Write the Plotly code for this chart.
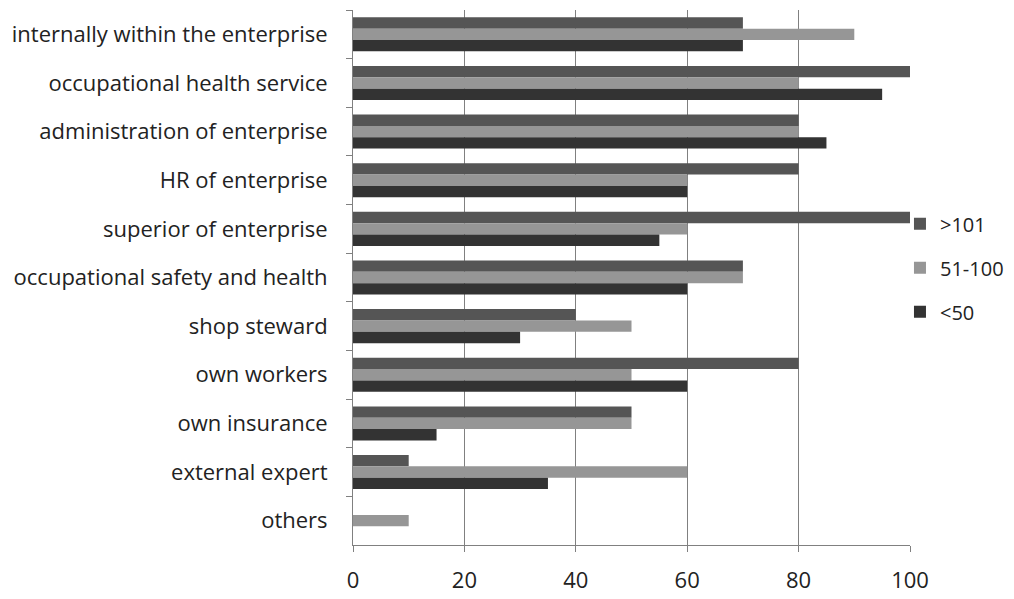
import plotly.graph_objects as go

categories = [
    "internally within the enterprise",
    "occupational health service",
    "administration of enterprise",
    "HR of enterprise",
    "superior of enterprise",
    "occupational safety and health",
    "shop steward",
    "own workers",
    "own insurance",
    "external expert",
    "others",
]
series_names = [">101", "51-100", "<50"]
vals_gt101 = [70, 100, 80, 80, 100, 70, 40, 80, 50, 10, 0]
vals_51_100 = [90, 80, 80, 60, 60, 70, 50, 50, 50, 60, 10]
vals_lt50 = [70, 95, 85, 60, 55, 60, 30, 60, 15, 35, 0]
colors = ["#555555", "#969696", "#333333"]
x_ticks = [0, 20, 40, 60, 80, 100]

fig = go.Figure()
for name, vals, col in zip(series_names, [vals_gt101, vals_51_100, vals_lt50], colors):
    fig.add_trace(go.Bar(
        y=categories, x=vals, name=name, orientation="h", legendgroup=name,
        marker=dict(color=col, line=dict(width=0)),
    ))

fnt = dict(family="Open Sans, Liberation Sans, sans-serif", size=22, color="#222222")
fig.update_layout(
    width=1014, height=599,
    margin=dict(l=353, r=104, t=10, b=54, autoexpand=False),
    paper_bgcolor="white", plot_bgcolor="white",
    barmode="group", bargap=0.3, bargroupgap=0,
    font=fnt,
    showlegend=True,
    legend=dict(x=0.982, y=0.518, xanchor="left", yanchor="middle",
                traceorder="grouped", font=dict(size=20),
                bgcolor="rgba(0,0,0,0)",
                itemwidth=30, tracegroupgap=15),
    xaxis=dict(range=[0, 100], tickvals=x_ticks, showgrid=True,
               gridcolor="#808080", gridwidth=1, automargin=False,
               showline=True, linecolor="#808080", linewidth=1,
               ticks="outside", ticklen=6, tickcolor="#808080",
               ticklabelstandoff=10, zeroline=False, fixedrange=True),
    yaxis=dict(autorange="reversed", showline=True, linecolor="#808080",
               linewidth=1, ticks="outside", ticklen=6, tickcolor="#808080",
               tickson="boundaries", ticklabelstandoff=20, showgrid=False,
               automargin=False, fixedrange=True),
)
fig.write_html("out.html", config={"displayModeBar": False},
               post_script="document.body.style.margin='0';")
